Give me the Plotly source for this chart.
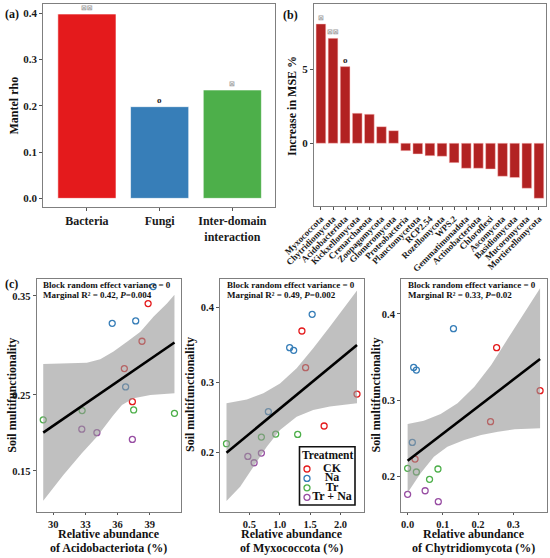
import plotly.graph_objects as go

W, H = 550, 558
FONT = "Liberation Serif"

# (a) Mantel test between microbial groups and multifunctionality
groups = ["Bacteria", "Fungi", "Inter-domain<br>interaction"]
mantel_rho = [0.398, 0.198, 0.234]
mantel_sig = ["**", "o", "*"]

# (b) random forest importance of phyla
phyla = ["Myxococcota", "Chytridiomycota", "Acidobacteriota", "Kickxellomycota",
         "Crenarchaeota", "Zoopagomycota", "Glomeromycota", "Proteobacteria",
         "Planctomycetota", "RCP2.54", "Rozellomycota", "WPS.2", "Gemmatimonadota",
         "Actinobacteriota", "Chloroflexi", "Ascomycota", "Basidiomycota",
         "Mucoromycota", "Mortierellomycota"]
inc_mse = [8.06, 7.09, 5.18, 2.03, 1.96, 1.12, 0.85, -0.50, -0.72, -0.84,
           -0.88, -1.31, -1.69, -1.69, -1.74, -2.23, -2.32, -3.04, -3.72]
mse_sig = ["*", "**", "o"] + [""] * 16

# (c) multifunctionality vs relative abundance
treatments = ["CK", "Na", "Tr", "Tr + Na"]
sample_trt = ["Na"] * 4 + ["CK"] * 4 + ["Tr"] * 4 + ["Tr + Na"] * 3

acido_abund = [39.32, 35.50, 37.69, 36.75, 38.85, 38.28, 36.63, 37.38,
               37.50, 41.31, 32.69, 29.06, 32.66, 34.07, 37.38]
acido_mf = [0.3585, 0.3244, 0.3267, 0.2590, 0.343, 0.3069, 0.2789, 0.2423,
            0.2325, 0.2285, 0.2318, 0.2205, 0.2088, 0.2043, 0.1955]
acido_fit_x = [29.06, 41.31]
acido_fit_y = [0.2043, 0.3056]
acido_up_x = [29.06, 33.13, 34.38, 35.62, 36.88, 38.13, 39.37, 40.63, 41.31]
acido_up_y = [0.2837, 0.2851, 0.2886, 0.2965, 0.3065, 0.3163, 0.3308, 0.3432, 0.3510]
acido_lo_x = [29.06, 30.94, 32.66, 34.07, 35.62, 36.41, 37.50, 39.06, 41.31]
acido_lo_y = [0.0962, 0.1434, 0.1763, 0.1991, 0.2265, 0.2384, 0.2462, 0.2500, 0.2519]

myxo_abund = [1.534, 1.163, 1.229, 0.812, 1.365, 1.426, 2.273, 1.731,
              0.933, 1.295, 0.697, 0.122, 0.697, 0.474, 0.577]
myxo_mf = [0.3909, 0.3470, 0.3435, 0.2595, 0.3691, 0.3202, 0.2841, 0.2391,
           0.2275, 0.2270, 0.2231, 0.2134, 0.1996, 0.1946, 0.1851]
myxo_fit_x = [0.122, 2.273]
myxo_fit_y = [0.2002, 0.3506]
myxo_up_x = [0.122, 0.457, 0.730, 1.004, 1.278, 1.551, 1.825, 2.099, 2.273]
myxo_up_y = [0.2712, 0.2767, 0.2851, 0.2988, 0.3193, 0.3462, 0.3748, 0.4030, 0.4215]
myxo_lo_x = [0.122, 0.347, 0.566, 0.786, 1.004, 1.278, 1.551, 1.825, 2.273]
myxo_lo_y = [0.1252, 0.1481, 0.1791, 0.2090, 0.2333, 0.2524, 0.2618, 0.2666, 0.2712]

chytrid_abund = [0.1303, 0.0172, 0.0249, 0.0134, 0.2529, 0.3764, 0.2356, 0.0211,
                 0.0, 0.0249, 0.0862, 0.0623, 0.0498, 0.0, 0.0872]
chytrid_mf = [0.3836, 0.3392, 0.3361, 0.2466, 0.3620, 0.3115, 0.2732, 0.2244,
              0.2117, 0.2066, 0.2108, 0.1963, 0.1799, 0.1746, 0.1636]
chytrid_fit_x = [0.0, 0.3764]
chytrid_fit_y = [0.2221, 0.3490]
chytrid_up_x = [0.0, 0.046, 0.0939, 0.1418, 0.1897, 0.2375, 0.2854, 0.3333, 0.3764]
chytrid_up_y = [0.2703, 0.2745, 0.2828, 0.2961, 0.3163, 0.3420, 0.3727, 0.4025, 0.4280]
chytrid_lo_x = [0.0, 0.0364, 0.0747, 0.113, 0.1609, 0.2088, 0.2567, 0.3046, 0.3764]
chytrid_lo_y = [0.1771, 0.2047, 0.2276, 0.2409, 0.2497, 0.2563, 0.2605, 0.2635, 0.2648]

block_var = 0
marginal_r2 = [0.42, 0.49, 0.33]
p_values = ["0.004", "0.002", "0.02"]

bar_cols = ["#E41A1C", "#377EB8", "#4DAF4A"]
trt_cols = {"CK": "#E41A1C", "Na": "#377EB8", "Tr": "#4DAF4A", "Tr + Na": "#984EA3"}


def px(v):
    return v / W


def py(v):
    return 1 - v / H


def tickfont(size):
    return dict(family=FONT, size=size, color="#1a1a1a", weight="bold")


frame = dict(showline=True, linecolor="#7f7f7f", linewidth=1, mirror=True,
             ticks="outside", ticklen=3, tickcolor="#555", tickwidth=1,
             showgrid=False, zeroline=False, automargin=False)

fig = go.Figure()
annotations = []


def label(text, x, y, size=12, **kw):
    d = dict(text=text, x=px(x), y=py(y), xref="paper", yref="paper",
             xanchor="center", yanchor="middle", showarrow=False,
             font=dict(family=FONT, size=size, color="#111", weight="bold"))
    d.update(kw)
    annotations.append(d)


def sig_ann(s, x, y, xr, yr):
    star = "*" in s
    annotations.append(dict(
        text=s.replace("*", "⊠") if star else s, x=x, y=y, xref=xr, yref=yr,
        xanchor="center", yanchor="bottom", showarrow=False,
        font=dict(family="DejaVu Sans" if star else FONT, size=7 if star else 9,
                  color="#a0a0a0" if star else "#222", weight="bold")))


# (a)
fig.add_trace(go.Bar(x=groups, y=mantel_rho, width=0.8,
                     marker=dict(color=bar_cols, line=dict(color="rgba(255,255,255,0.6)", width=1)),
                     xaxis="x", yaxis="y"))
for g, v, s in zip(groups, mantel_rho, mantel_sig):
    sig_ann(s, g, v, "x", "y")

# (b)
fig.add_trace(go.Bar(x=phyla, y=inc_mse, width=0.8,
                     marker=dict(color="#B22222", line=dict(color="rgba(255,200,200,0.6)", width=0.8)),
                     xaxis="x2", yaxis="y2"))
for g, v, s in zip(phyla, inc_mse, mse_sig):
    if s:
        sig_ann(s, g, v, "x2", "y2")

# (c)
panels = [
    dict(taxon="Acidobacteriota", x=acido_abund, y=acido_mf, fx=acido_fit_x, fy=acido_fit_y,
         ux=acido_up_x, uy=acido_up_y, lx=acido_lo_x, ly=acido_lo_y, p=1.65,
         xr=[28.45, 41.92], yr=[0.0706, 0.365], xt=[30, 33, 36, 39], xf="{:.0f}",
         yt=[0.15, 0.25, 0.35], yf="{:.2f}", dom=(36.7, 181.0), ytx=11.7),
    dict(taxon="Myxococcota", x=myxo_abund, y=myxo_mf, fx=myxo_fit_x, fy=myxo_fit_y,
         ux=myxo_up_x, uy=myxo_up_y, lx=myxo_lo_x, ly=myxo_lo_y, p=1.2,
         xr=[0.015, 2.38], yr=[0.1075, 0.4359], xt=[0.5, 1.0, 1.5, 2.0], xf="{:.1f}",
         yt=[0.2, 0.3, 0.4], yf="{:.1f}", dom=(220.0, 363.5), ytx=190),
    dict(taxon="Chytridiomycota", x=chytrid_abund, y=chytrid_mf, fx=chytrid_fit_x, fy=chytrid_fit_y,
         ux=chytrid_up_x, uy=chytrid_up_y, lx=chytrid_lo_x, ly=chytrid_lo_y, p=1.35,
         xr=[-0.0188, 0.3952], yr=[0.1482, 0.4377], xt=[0.0, 0.1, 0.2, 0.3], xf="{:.1f}",
         yt=[0.2, 0.3, 0.4], yf="{:.1f}", dom=(401.0, 546.7), ytx=375.5),
]

layout_axes = {}
for k, pn in enumerate(panels):
    n = k + 3
    xa, ya = "x%d" % n, "y%d" % n
    p = pn["p"]
    for trt in treatments:
        idx = [i for i, t in enumerate(sample_trt) if t == trt]
        fig.add_trace(go.Scatter(
            x=[pn["x"][i] for i in idx], y=[pn["y"][i] ** p for i in idx], mode="markers",
            marker=dict(symbol="circle-open", size=6, color=trt_cols[trt], line=dict(width=1.3)),
            xaxis=xa, yaxis=ya))
    fig.add_trace(go.Scatter(
        x=pn["ux"] + pn["lx"][::-1],
        y=[v ** p for v in pn["uy"]] + [v ** p for v in pn["ly"][::-1]],
        fill="toself", fillcolor="rgba(150,150,150,0.6)", line=dict(width=0),
        mode="lines", xaxis=xa, yaxis=ya))
    fig.add_trace(go.Scatter(x=pn["fx"], y=[v ** p for v in pn["fy"]], mode="lines",
                             line=dict(color="black", width=2.6), xaxis=xa, yaxis=ya))

    layout_axes["xaxis%d" % n] = dict(frame, domain=[px(pn["dom"][0]), px(pn["dom"][1])],
                                      anchor=ya, range=pn["xr"], tickvals=pn["xt"], ticklen=2.5,
                                      ticktext=[pn["xf"].format(t) for t in pn["xt"]],
                                      tickfont=tickfont(10.5))
    layout_axes["yaxis%d" % n] = dict(frame, domain=[py(511.7), py(279.3)], anchor=xa,
                                      range=[pn["yr"][0] ** p, pn["yr"][1] ** p],
                                      tickvals=[t ** p for t in pn["yt"]],
                                      ticktext=[pn["yf"].format(t) for t in pn["yt"]],
                                      tickfont=tickfont(10.5))

    left, right = pn["dom"]
    label("Block random effect variance = %d" % block_var, left + 4.5, 285.3, size=9, xanchor="left")
    label("Marginal R² = %.2f, <i>P</i>=%s" % (marginal_r2[k], p_values[k]),
          left + 4.5, 294.6, size=9, xanchor="left")
    label("Soil multifunctionality", pn["ytx"], 395, size=12, textangle=-90)
    label("Relative abundance", (left + right) / 2, 533.5, size=12)
    label("of %s (%%)" % pn["taxon"], (left + right) / 2, 547.8, size=12)

# legend for treatments, drawn in a small hidden subplot inside panel (c) middle
fig.add_trace(go.Scatter(
    x=[7] * len(treatments), y=list(range(len(treatments))), mode="markers",
    marker=dict(symbol="circle-open", size=6, color=[trt_cols[t] for t in treatments],
                line=dict(width=1.3)),
    xaxis="x6", yaxis="y6"))
fig.add_trace(go.Scatter(
    x=[32] * len(treatments), y=list(range(len(treatments))), mode="text",
    text=treatments, textposition="middle center",
    textfont=dict(family=FONT, size=12, color="#111", weight="bold"),
    xaxis="x6", yaxis="y6"))
label("Treatment", 327.5, 455.3, size=11.5)

label("(a)", 12, 14)
label("(b)", 290, 15)
label("(c)", 11, 284)
label("Mantel rho", 14, 105.5, size=12, textangle=-90)
label("Increase in MSE %", 292, 106, size=12, textangle=-90)

fig.update_layout(
    width=W, height=H, margin=dict(l=0, r=0, t=0, b=0, autoexpand=False),
    paper_bgcolor="white", plot_bgcolor="white", showlegend=False,
    xaxis=dict(frame, domain=[px(43.3), px(274.5)], anchor="y", range=[-0.6, 2.58],
               tickfont=tickfont(12)),
    yaxis=dict(frame, domain=[py(206.7), py(4.3)], anchor="x", range=[-0.018, 0.419],
               tickvals=[0, 0.1, 0.2, 0.3, 0.4], tickformat=".1f", tickfont=tickfont(11)),
    xaxis2=dict(frame, domain=[px(314), px(545.7)], anchor="y2", range=[-0.57, 18.56],
                tickangle=-45, tickfont=tickfont(9)),
    yaxis2=dict(frame, domain=[py(206), py(4)], anchor="x2", range=[-4.24, 9.41],
                tickvals=[0, 5], tickfont=tickfont(11)),
    xaxis6=dict(domain=[px(300), px(355)], anchor="y6", range=[0, 55], visible=False,
                automargin=False),
    yaxis6=dict(domain=[py(502), py(464.3)], anchor="x6", range=[3.5, -0.5], visible=False,
                automargin=False),
    shapes=[dict(type="rect", xref="paper", yref="paper", x0=px(299.5), x1=px(355),
                 y0=py(505), y1=py(446.7), line=dict(color="#111", width=1.6),
                 fillcolor="rgba(0,0,0,0)", layer="above")],
    annotations=annotations,
    **layout_axes,
)

# the page body has a default 8px margin; drop it so the figure sits at the window origin
fig.write_html("out.html", config={"displayModeBar": False},
               post_script="document.body.style.margin='0';")
